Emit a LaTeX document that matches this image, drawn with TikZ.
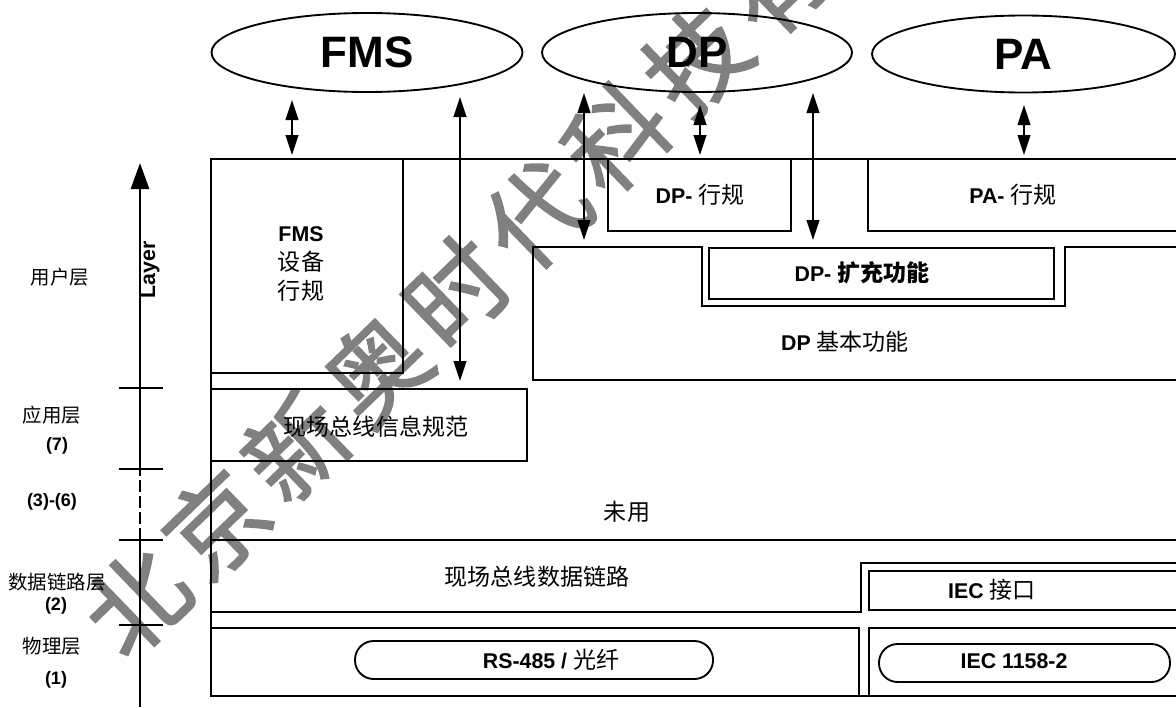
\documentclass[tikz,border=0pt]{standalone}
\usepackage{fontspec}
\setmainfont{Liberation Sans}
\newfontfamily\cjk[Scale=1.08]{Noto Sans CJK SC}
\newfontfamily\wmfont{Noto Sans CJK SC}
\newcommand{\zh}[1]{{\cjk #1}}
\newcommand{\wk}{\kern8.5pt}
\usetikzlibrary{arrows.meta,shapes.geometric}
\tikzset{
  frame/.style={draw=black, line width=1.4pt},
  ell/.style={ellipse, draw, line width=1.4pt, inner sep=0pt,
    font=\fontsize{33}{36}\selectfont\bfseries},
  txt/.style={inner sep=0pt, font=\fontsize{16}{20}\selectfont},
  lay/.style={inner sep=0pt, font=\fontsize{13.5}{16}\selectfont},
  pill/.style={draw, line width=1.4pt, rounded corners=14pt, inner sep=0pt},
  biarrow/.style={line width=1.4pt,
    {Triangle[length=15pt,width=9.5pt]}-{Triangle[length=15pt,width=9.5pt]}},
  tickline/.style={line width=1.4pt},
  axisline/.style={line width=2.2pt},
}
\begin{document}
\begin{tikzpicture}[x=0.75pt,y=-0.75pt]
\useasboundingbox (0,0) rectangle (1176,707);
\clip (0,0) rectangle (1176,707);

% watermark
\node[rotate=44, text=black!50, inner sep=0pt,
  font=\wmfont\fontsize{75}{75}\selectfont] (wm) at (456,292)
  {\special{pdf:literal direct 2 Tr 1.2 w}北\wk 京\wk 新\wk 奥\wk 时\wk 代\wk 科\wk 技\wk 有\special{pdf:literal direct 0 Tr}};

% ellipses
\node[ell, minimum width=233.25pt, minimum height=59.25pt] (fms) at (367,52.5) {FMS};
\node[ell, minimum width=232.5pt, minimum height=59.25pt] (dp) at (697,52.5) {DP};
\node[ell, minimum width=227.25pt, minimum height=57.75pt] (pa) at (1023.5,54) {PA};

% frame and boxes
\draw[frame] (1180,159) -- (211,159) -- (211,696) -- (1180,696);
\draw[frame] (211,159) rectangle (403,373);
\draw[frame] (211,389) rectangle (527,461);
\draw[frame] (608,159) rectangle (791,231);
\draw[frame] (868,159) rectangle (1180,231);
\draw[frame] (1180,247) -- (1065,247) -- (1065,306) -- (702,306) -- (702,247)
  -- (533,247) -- (533,380) -- (1180,380);
\draw[frame] (709,248) rectangle (1054,299);
\draw[frame] (211,540) -- (1180,540);
\draw[frame] (1180,563) -- (861,563) -- (861,612) -- (211,612);
\draw[frame] (869,571) rectangle (1180,610);
\draw[frame] (211,628) -- (859,628) -- (859,696);
\draw[frame] (1180,628) -- (869,628) -- (869,696);

\node[pill, minimum width=268.5pt, minimum height=28.5pt] (rs) at (534,660) {};
\node[pill, minimum width=218.25pt, minimum height=28.5pt] (iecp) at (1024.5,663) {};

% texts
\node[txt, align=center, font=\fontsize{16}{21.75}\selectfont] (fmsprof) at (301,264)
  {\textbf{FMS}\\\zh{设备}\\\zh{行规}};
\node[txt] (dpprof) at (700,195) {\textbf{DP-} \zh{行规}};
\node[txt] (paprof) at (1013,195) {\textbf{PA-} \zh{行规}};
\node[txt] (dpext) at (862,273) {\textbf{DP-} {\cjk\bfseries 扩充功能}};
\node[txt] (dpbase) at (845,342) {\textbf{DP} \zh{基本功能}};
\node[txt] (fmsspec) at (376,427) {\zh{现场总线信息规范}};
\node[txt] (unused) at (627,512) {\zh{未用}};
\node[txt] (fdl) at (537,577) {\zh{现场总线数据链路}};
\node[txt] (iecif) at (992,590) {\textbf{IEC} \zh{接口}};
\node[txt] (rstxt) at (551,660) {\textbf{RS-485 /} \zh{光纤}};
\node[txt] (iectxt) at (1014,661) {\textbf{IEC 1158-2}};

% arrows
\coordinate (a1t) at (292,100); \coordinate (a1b) at (292,155);
\coordinate (a2t) at (460,97);  \coordinate (a2b) at (460,381);
\coordinate (a3t) at (584,93);  \coordinate (a3b) at (584,240);
\coordinate (a4t) at (700,105); \coordinate (a4b) at (700,155);
\coordinate (a5t) at (813,93);  \coordinate (a5b) at (813,240);
\coordinate (a6t) at (1024,105); \coordinate (a6b) at (1024,155);
\draw[biarrow] (a1t) -- (a1b);
\draw[biarrow] (a2t) -- (a2b);
\draw[biarrow] (a3t) -- (a3b);
\draw[biarrow] (a4t) -- (a4b);
\draw[biarrow] (a5t) -- (a5b);
\draw[biarrow] (a6t) -- (a6b);

% axis
\coordinate (ax0) at (140,707);
\coordinate (ax1) at (140,540);
\coordinate (ax2) at (140,469);
\coordinate (axtop) at (140,163);
\draw[axisline] (ax0) -- (ax1);
\draw[axisline, dash pattern=on 9pt off 3pt] (ax1) -- (ax2);
\draw[axisline, -{Triangle[length=19.5pt,width=13.5pt]}] (ax2) -- (axtop);
\foreach \yy in {388,469,540,625} \draw[tickline] (119,\yy) -- (163,\yy);
\node[rotate=90, inner sep=0pt, font=\fontsize{16}{16}\selectfont\bfseries] (layer) at (150,270) {Layer};

% layer labels
\node[lay] (l1) at (60,277) {\zh{用户层}};
\node[lay] (l2) at (52,415) {\zh{应用层}};
\node[lay] (l2n) at (57,446) {\textbf{(7)}};
\node[lay] (l3) at (52,502) {\textbf{(3)-(6)}};
\node[lay] (l4) at (57,582) {\zh{数据链路层}};
\node[lay] (l4n) at (56,606) {\textbf{(2)}};
\node[lay] (l5) at (52,646) {\zh{物理层}};
\node[lay] (l5n) at (56,680) {\textbf{(1)}};
\end{tikzpicture}
\end{document}
